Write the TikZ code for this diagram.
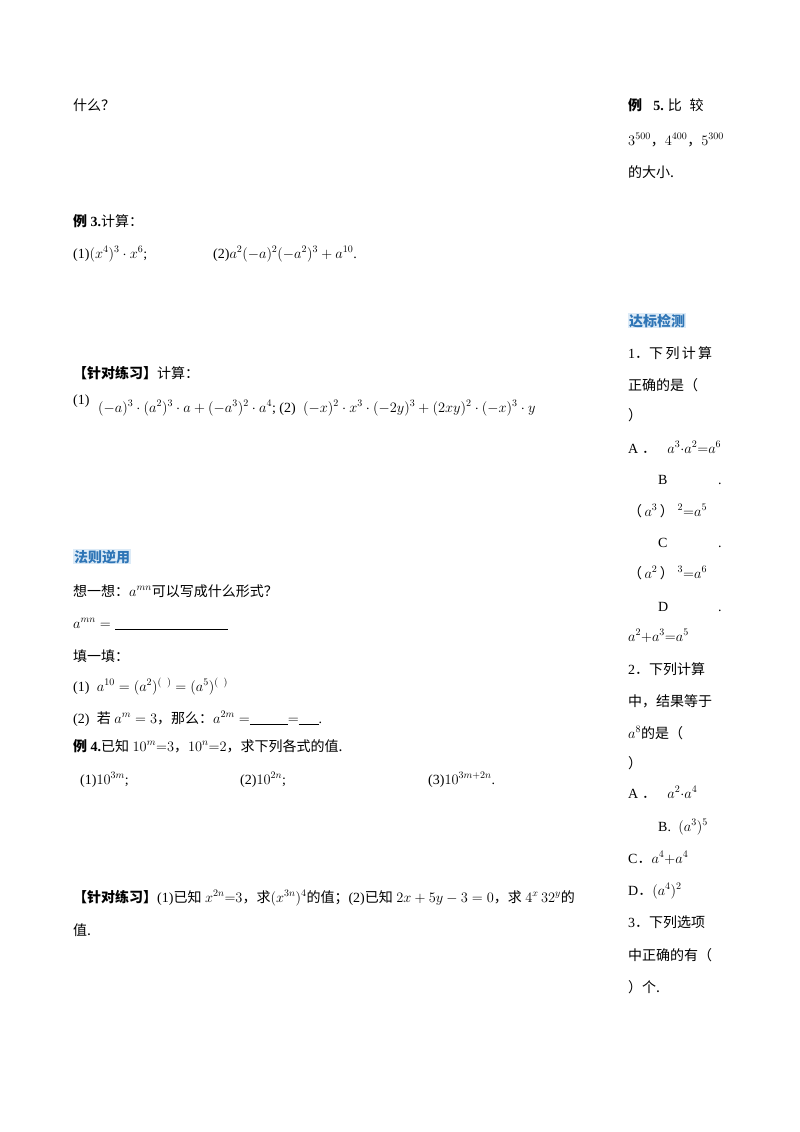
\documentclass[tikz,border=0pt]{standalone}
\usepackage{fontspec}
\setmainfont{Liberation Serif}
\newfontfamily\cjk{Noto Sans CJK SC}
\definecolor{hlbg}{HTML}{DDEBF7}
\definecolor{hlfg}{HTML}{2E75B6}
\tikzset{t/.style={anchor=base west,inner sep=0pt,font=\fontsize{14}{16}\selectfont},
hd/.style={t,fill=hlbg,text=hlfg,inner sep=1pt,font=\fontsize{14}{16}\selectfont\cjk\bfseries}}
\newcommand{\zh}[1]{{\cjk #1}}
\begin{document}
\begin{tikzpicture}[x=1pt,y=-1pt]
\useasboundingbox[fill=white] (0,0) rectangle (800,1132);
\node[t] (l1) at (73,110) {\zh{什么？}};
\node[t] (e3) at (73,226) {\textbf{\zh{例} 3.}\zh{计算：}};
\node[t] (e3a) at (73,258) {(1)$(x^4)^3\cdot x^6$;};
\node[t] (e3b) at (213,258) {(2)$a^2(-a)^2(-a^2)^3+a^{10}$.};
\node[t] (p1) at (73,378) {\zh{\bfseries【针对练习】}\zh{计算：}};
\node[t] (p1a) at (73,404) {(1)};
\node[t] (p1b) at (98,412) {$(-a)^3\cdot(a^2)^3\cdot a+(-a^3)^2\cdot a^4$; (2)\; $(-x)^2\cdot x^3\cdot(-2y)^3+(2xy)^2\cdot(-x)^3\cdot y$};
\node[hd] (h1) at (73,562) {法则逆用};
\node[t] (q1) at (73,596) {\zh{想一想：}$a^{mn}$\zh{可以写成什么形式？}};
\node[t] (q2) at (73,628) {$a^{mn}=$};
\coordinate (u1) at (115,629); \coordinate (u2) at (228,629);
\draw (u1) -- (u2);
\node[t] (q3) at (73,661) {\zh{填一填：}};
\node[t] (q4) at (73,691) {(1)\; $a^{10}=(a^2)^{(\;\;)}=(a^5)^{(\;\;)}$};
\node[t] (q5) at (73,723) {(2)\; \zh{若} $a^m=3$\zh{，那么：}$a^{2m}=$\underline{\hspace{38pt}}$=$\underline{\hspace{20pt}}.};
\node[t] (e4) at (73,751) {\textbf{\zh{例} 4.}\zh{已知} $10^m{=}3$\zh{，}$10^n{=}2$\zh{，求下列各式的值.}};
\node[t] (e4a) at (80,784) {(1)$10^{3m}$;};
\node[t] (e4b) at (240,784) {(2)$10^{2n}$;};
\node[t] (e4c) at (428,784) {(3)$10^{3m+2n}$.};
\node[t] (p2) at (73,902) {\zh{\bfseries【针对练习】}(1)\zh{已知} $x^{2n}{=}3$\zh{，求}$(x^{3n})^4$\zh{的值；}(2)\zh{已知} $2x+5y-3=0$\zh{，求} $4^x\,32^y$\zh{的}};
\node[t] (p2b) at (73,935) {\zh{值.}};
% right column
\node[t] (r1) at (628,110) {\textbf{\zh{例}\;\; 5.}\;\zh{比\;\;较}};
\node[t] (r2) at (628,145) {$3^{500}$\zh{，}$4^{400}$\zh{，}$5^{300}$};
\node[t] (r3) at (628,177) {\zh{的大小.}};
\node[hd] (h2) at (628,326) {达标检测};
\node[t] (r4) at (628,358) {1\zh{．下\,列\,计\,算}};
\node[t] (r5) at (628,390) {\zh{正确的是（}};
\node[t] (r6) at (628,420) {\zh{）}};
\node[t] (r7) at (628,453) {A\;\zh{．}\;\; $a^3{\cdot}a^2{=}a^6$};
\node[t] (r8) at (658,484) {B};
\node[t] (r8d) at (718,484) {.};
\node[t] (r9) at (628,516) {\zh{（}\,$a^3$\,\zh{）}\;$^2{=}a^5$};
\node[t] (r10) at (658,547) {C};
\node[t] (r10d) at (718,547) {.};
\node[t] (r11) at (628,578) {\zh{（}\,$a^2$\,\zh{）}\;$^3{=}a^6$};
\node[t] (r12) at (658,611) {D};
\node[t] (r12d) at (718,611) {.};
\node[t] (r13) at (628,641) {$a^2{+}a^3{=}a^5$};
\node[t] (r14) at (628,674) {2\zh{．下列计算}};
\node[t] (r15) at (628,706) {\zh{中，结果等于}};
\node[t] (r16) at (628,738) {$a^8$\zh{的是（}};
\node[t] (r17) at (628,768) {\zh{）}};
\node[t] (r18) at (628,798) {A\;\zh{．}\;\; $a^2{\cdot}a^4$};
\node[t] (r19) at (658,831) {B.\; $(a^3)^5$};
\node[t] (r20) at (628,863) {C\zh{．}$a^4{+}a^4$};
\node[t] (r21) at (628,895) {D\zh{．}$(a^4)^2$};
\node[t] (r22) at (628,927) {3\zh{．下列选项}};
\node[t] (r23) at (628,960) {\zh{中正确的有（}};
\node[t] (r24) at (628,992) {\zh{）个.}};
\end{tikzpicture}
\end{document}
